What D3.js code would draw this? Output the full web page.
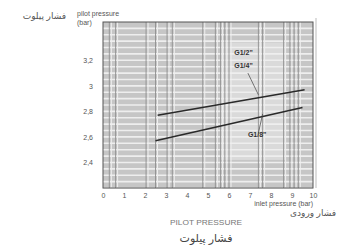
<!DOCTYPE html>
<html>
<head>
<meta charset="utf-8">
<script src="https://cdn.jsdelivr.net/npm/d3@7"></script>
<style>
  body { margin: 0; background: #fff; }
  text { font-family: "Liberation Sans", "DejaVu Sans", sans-serif; }
</style>
</head>
<body>
<script>
// values
var xTicks = [0, 1, 2, 3, 4, 5, 6, 7, 8, 9, 10];
var yTicks = [2.4, 2.6, 2.8, 3, 3.2];
var seriesNames = ['G1/2" G1/4"', 'G1/8"'];
var upperX = [2.6, 9.6];
var upperY = [2.77, 2.97];
var lowerX = [2.5, 9.5];
var lowerY = [2.57, 2.83];
// vertical darker lines of the graph paper
var paperX = [0.3, 0.6, 2.05, 2.5, 3.05, 3.3, 4.75, 5.35, 5.6, 5.8, 6.0, 7.4, 7.6, 8.6, 8.9, 9.1, 9.3];

var W = 347, H = 245;
var svg = d3.select("body").append("svg")
    .attr("width", W)
    .attr("height", H);

var x = d3.scaleLinear().domain([0, 10]).range([103, 313]);
var y = d3.scaleLinear().domain([2.2, 3.5]).range([188, 22]);

//plot background
svg.append("rect")
    .attr("x", x(0)).attr("y", y(3.5))
    .attr("width", x(10) - x(0)).attr("height", y(2.2) - y(3.5))
    .attr("fill", "#c6c6c6");

//lighter box behind the labels
svg.append("rect")
    .attr("x", x(5.6)).attr("y", y(3.34))
    .attr("width", x(8.7) - x(5.6)).attr("height", y(2.42) - y(3.34))
    .attr("fill", "#dadada");

//white horizontal graph lines
var hLines = d3.range(2.2, 3.5, 0.05);
svg.append("g").selectAll("line").data(hLines).enter().append("line")
    .attr("x1", x(0)).attr("x2", x(10))
    .attr("y1", function(d) { return y(d); })
    .attr("y2", function(d) { return y(d); })
    .attr("stroke", "#eeeeee")
    .attr("stroke-width", 1.6);

//vertical lines
svg.append("g").selectAll("line").data(paperX).enter().append("line")
    .attr("x1", function(d) { return x(d); })
    .attr("x2", function(d) { return x(d); })
    .attr("y1", y(3.5)).attr("y2", y(2.2))
    .attr("stroke", "#8e8e8e")
    .attr("stroke-width", 0.9);
svg.append("g").selectAll("line").data(paperX).enter().append("line")
    .attr("x1", function(d) { return x(d) + 2; })
    .attr("x2", function(d) { return x(d) + 2; })
    .attr("y1", y(3.5)).attr("y2", y(2.2))
    .attr("stroke", "#efefef")
    .attr("stroke-width", 1);

//frame
svg.append("rect")
    .attr("x", x(0)).attr("y", y(3.5))
    .attr("width", x(10) - x(0)).attr("height", y(2.2) - y(3.5))
    .attr("fill", "none")
    .attr("stroke", "#555")
    .attr("stroke-width", 1);
svg.append("line")
    .attr("x1", x(10) + 3).attr("x2", x(10) + 3)
    .attr("y1", y(3.5) - 4).attr("y2", y(2.2))
    .attr("stroke", "#bbb");

//axes
var xAxis = svg.append("g")
    .attr("transform", "translate(0," + (y(2.2) + 2) + ")")
    .call(d3.axisBottom(x).tickValues(xTicks).tickSize(0).tickPadding(3));
var yAxis = svg.append("g")
    .attr("transform", "translate(" + (x(0) - 8) + ",0)")
    .call(d3.axisLeft(y).tickValues(yTicks).tickSize(0).tickPadding(2)
        .tickFormat(function(d) { return String(d).replace(".", ","); }));
[xAxis, yAxis].forEach(function(a) {
    a.select(".domain").remove();
    a.selectAll("text").attr("font-size", 7).attr("fill", "#555");
});

//series lines
var line = d3.line()
    .x(function(d) { return x(d[0]); })
    .y(function(d) { return y(d[1]); });
[[upperX, upperY], [lowerX, lowerY]].forEach(function(s) {
    svg.append("path")
        .datum(d3.zip(s[0], s[1]))
        .attr("d", line)
        .attr("fill", "none")
        .attr("stroke", "#2a2a2a")
        .attr("stroke-width", 1.5);
});

//labels and leader lines
svg.append("text").attr("x", x(6.25)).attr("y", y(3.24))
    .attr("font-size", 7).attr("font-weight", "bold").attr("fill", "#333")
    .text('G1/2"');
svg.append("text").attr("x", x(6.25)).attr("y", y(3.14))
    .attr("font-size", 7).attr("font-weight", "bold").attr("fill", "#333")
    .text('G1/4"');
svg.append("text").attr("x", x(6.9)).attr("y", y(2.6))
    .attr("font-size", 7).attr("font-weight", "bold").attr("fill", "#333")
    .text('G1/8"');
svg.append("line")
    .attr("x1", x(6.9)).attr("y1", y(3.1))
    .attr("x2", x(7.4)).attr("y2", y(2.93))
    .attr("stroke", "#444").attr("stroke-width", 0.7);
svg.append("line")
    .attr("x1", x(7.6)).attr("y1", y(2.78))
    .attr("x2", x(7.4)).attr("y2", y(2.63))
    .attr("stroke", "#444").attr("stroke-width", 0.7);

//axis titles
svg.append("text").attr("x", 77).attr("y", 16)
    .attr("font-size", 7).attr("fill", "#555").text("pilot pressure");
svg.append("text").attr("x", 77).attr("y", 25)
    .attr("font-size", 7).attr("fill", "#555").text("(bar)");
svg.append("text").attr("x", 66).attr("y", 19)
    .attr("font-size", 9).attr("fill", "#555").attr("text-anchor", "end")
    .attr("font-family", "DejaVu Sans").text("فشار پیلوت");
svg.append("text").attr("x", 313).attr("y", 206)
    .attr("font-size", 7).attr("fill", "#555").attr("text-anchor", "end")
    .text("inlet pressure (bar)");
svg.append("text").attr("x", 336).attr("y", 216)
    .attr("font-size", 9).attr("fill", "#555").attr("text-anchor", "end")
    .attr("font-family", "DejaVu Sans").text("فشار ورودی");
svg.append("text").attr("x", 206).attr("y", 225)
    .attr("font-size", 8).attr("fill", "#777").attr("text-anchor", "middle")
    .attr("textLength", 72).attr("lengthAdjust", "spacingAndGlyphs")
    .attr("font-family", "DejaVu Sans Condensed, Liberation Sans Narrow")
    .text("PILOT PRESSURE");
svg.append("text").attr("x", 206).attr("y", 242)
    .attr("font-size", 11).attr("fill", "#444").attr("text-anchor", "middle")
    .attr("font-family", "DejaVu Sans").text("فشار پیلوت");
</script>
</body>
</html>
